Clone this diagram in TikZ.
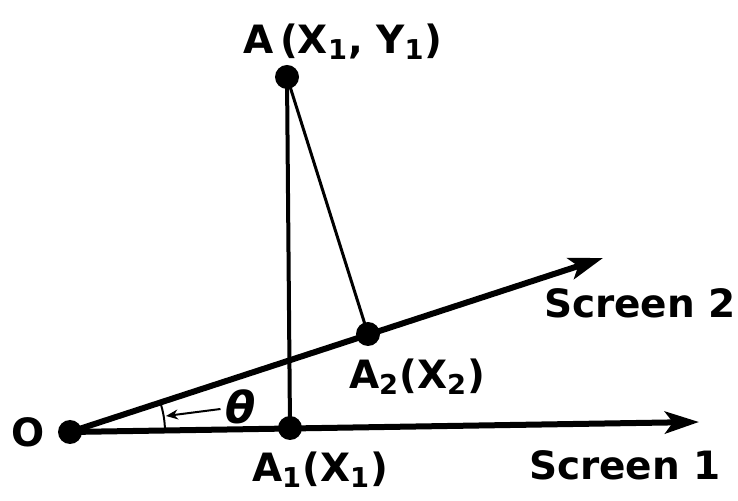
\documentclass[tikz,border=0pt]{standalone}
\usepackage{fontspec}
\setsansfont{DejaVu Sans}
\usepackage{tikz}
\usetikzlibrary{arrows.meta}

\begin{document}
\begin{tikzpicture}[x=0.5pt, y=-0.5pt,
    dot/.style={circle, fill=black, inner sep=0pt, minimum size=12pt},
    lbl/.style={font=\fontsize{19.5}{22}\selectfont\sffamily\bfseries, inner sep=0pt},
    screen/.style={line width=3pt, -{Stealth[length=17pt, width=11pt, inset=4pt]}}]

  \useasboundingbox (0,0) rectangle (738,501);

  %% Points
  \node[dot] (O)  at (70,432)  {};
  \node[dot] (A)  at (287,77)  {};
  \node[dot] (A1) at (290,428) {};
  \node[dot] (A2) at (368,334) {};
  \coordinate (s1) at (699,422);
  \coordinate (s2) at (603,258);

  %% Screens
  \draw[screen] (O.center) -- (s1);
  \draw[screen] (O.center) -- (s2);

  %% Projections
  \draw[line width=2pt] (A.center) -- (A1.center);
  \draw[line width=1.5pt] (A.center) -- (A2.center);

  %% Angle
  \draw[line width=1pt] (O.center) ++(-1:95) arc[start angle=-1, end angle=-18, radius=95];
  \node[inner sep=0pt, font=\fontsize{22}{26}\selectfont\sffamily\bfseries\itshape] (theta) at (241,407) {θ};
  \coordinate (thtip) at (166,416);
  \draw[line width=1pt, -{Stealth[length=6pt, width=5pt]}] (theta.west) ++(-5,2) -- (thtip);

  %% Labels
  \node[lbl] (Olbl)  at (28,432)  {O};
  \node[lbl] (Albl)  at (343,42)  {A\,(X\textsubscript{1}, Y\textsubscript{1})};
  \node[lbl] (A1lbl) at (320,470) {A\textsubscript{1}(X\textsubscript{1})};
  \node[lbl] (A2lbl) at (417,377) {A\textsubscript{2}(X\textsubscript{2})};
  \node[lbl] (s2lbl) at (640,303) {Screen 2};
  \node[lbl] (s1lbl) at (625,465) {Screen 1};

\end{tikzpicture}
\end{document}
